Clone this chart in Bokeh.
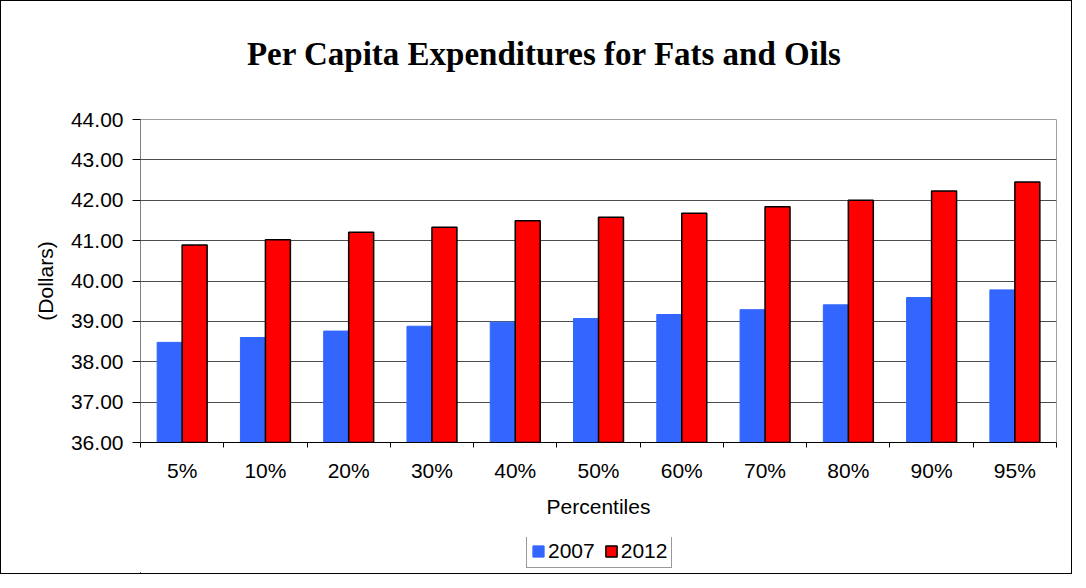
from bokeh.plotting import figure
from bokeh.layouts import column
from bokeh.models import (ColumnDataSource, Range1d, FixedTicker, SingleIntervalTicker,
                          NumeralTickFormatter, Legend, LegendItem, Label)
from bokeh.transform import dodge
from bokeh.embed import file_html
from bokeh.resources import INLINE

categories = ["5%", "10%", "20%", "30%", "40%", "50%", "60%", "70%", "80%", "90%", "95%"]
v2007 = [38.48, 38.60, 38.76, 38.88, 38.98, 39.07, 39.17, 39.29, 39.41, 39.59, 39.78]
v2012 = [40.89, 41.02, 41.21, 41.33, 41.49, 41.58, 41.68, 41.84, 42.00, 42.23, 42.45]
series_names = ["2007", "2012"]
series_cols = ["v2007", "v2012"]
series_colors = ["#3366FF", "#FF0000"]
series_lines = ["#3366FF", "black"]
series_line_widths = [1, 1.5]
title_text = "Per Capita Expenditures for Fats and Oils"
x_title = "Percentiles"
y_title = "(Dollars)"

xs = list(range(len(categories)))
src = ColumnDataSource(dict(x=xs, v2007=v2007, v2012=v2012))

FONT = "Liberation Sans"
W = 1070


def blank_fig(h):
    f = figure(width=W, height=h, x_range=Range1d(100, 101), y_range=Range1d(100, 101),
               output_backend="svg", toolbar_location=None,
               x_axis_type=None, y_axis_type=None, min_border=0)
    f.outline_line_color = None
    f.xgrid.grid_line_color = None
    f.ygrid.grid_line_color = None
    f.background_fill_color = "white"
    f.border_fill_color = "white"
    return f


# ---- header with title (frames of the column are aligned: x measured from frame left)
head = blank_fig(100)
head.add_layout(Label(x=404, y=48, x_units="screen", y_units="screen", text=title_text,
                      text_align="center", text_baseline="alphabetic",
                      text_font="Liberation Serif", text_font_style="bold",
                      text_font_size="33px", text_color="black"))

# ---- main chart
p = figure(width=W, height=436,
           x_range=Range1d(-0.5, len(categories) - 0.5), y_range=Range1d(36, 44),
           output_backend="svg", toolbar_location=None,
           min_border_left=139, min_border_right=15, min_border_top=18, min_border_bottom=95)
p.outline_line_color = "#a0a0a0"
p.outline_line_width = 1
p.background_fill_color = "white"
p.border_fill_color = "white"

offsets = [-0.15, 0.15]
for col, fc, lc, lw, off in zip(series_cols, series_colors, series_lines, series_line_widths, offsets):
    p.vbar(x=dodge("x", off), top=col, bottom=36, width=0.3, source=src,
           fill_color=fc, line_color=lc, line_width=lw)

xa = p.xaxis[0]
xa.ticker = FixedTicker(ticks=xs, minor_ticks=[i + 0.5 for i in range(-1, len(categories))])
xa.major_label_overrides = {i: c for i, c in enumerate(categories)}
xa.major_tick_out = 0
xa.major_tick_in = 0
xa.major_tick_line_color = None
xa.minor_tick_out = 5
xa.minor_tick_in = 0
xa.minor_tick_line_color = "black"
xa.axis_line_color = "black"
xa.major_label_standoff = 11
xa.major_label_text_font = FONT
xa.major_label_text_font_size = "21px"
xa.major_label_text_color = "black"
xa.axis_label = x_title
xa.axis_label_text_font = FONT
xa.axis_label_text_font_size = "21px"
xa.axis_label_text_font_style = "normal"
xa.axis_label_text_color = "black"
xa.axis_label_standoff = 10

ya = p.yaxis[0]
ya.ticker = SingleIntervalTicker(interval=1, num_minor_ticks=0)
ya.formatter = NumeralTickFormatter(format="0.00")
ya.major_tick_out = 8
ya.major_tick_in = 0
ya.major_tick_line_color = "black"
ya.minor_tick_line_color = None
ya.axis_line_color = "#808080"
ya.major_label_standoff = 9
ya.major_label_text_font = FONT
ya.major_label_text_font_size = "21px"
ya.major_label_text_color = "black"
ya.axis_label = y_title
ya.axis_label_text_font = FONT
ya.axis_label_text_font_size = "21px"
ya.axis_label_text_font_style = "normal"
ya.axis_label_text_color = "black"
ya.axis_label_standoff = 11

p.xgrid.grid_line_color = None
p.ygrid.grid_line_color = "#4d4d4d"
p.ygrid.grid_line_width = 1

# ---- legend strip (its bars fall outside its view; they only supply the swatches)
foot = blank_fig(36)
items = []
for name, col, fc, lc, lw in zip(series_names, series_cols, series_colors, series_lines, series_line_widths):
    rr = foot.vbar(x="x", top=col, bottom=36, width=0.3, source=src,
                   fill_color=fc, line_color=lc, line_width=lw)
    items.append(LegendItem(label=name, renderers=[rr]))
legend = Legend(items=items, orientation="horizontal", location=(386, 5))
legend.label_text_font = FONT
legend.label_text_font_size = "21px"
legend.label_text_color = "black"
legend.glyph_width = 14
legend.glyph_height = 14
legend.label_standoff = 3
legend.spacing = 9
legend.padding = 4
legend.margin = 0
legend.border_line_color = "#333333"
legend.border_line_width = 1
legend.background_fill_color = "white"
legend.background_fill_alpha = 1
foot.add_layout(legend, "center")

layout = column(head, p, foot, spacing=0)
layout.styles = {"border": "1px solid black"}

open("out.html", "w").write(file_html(layout, INLINE))
